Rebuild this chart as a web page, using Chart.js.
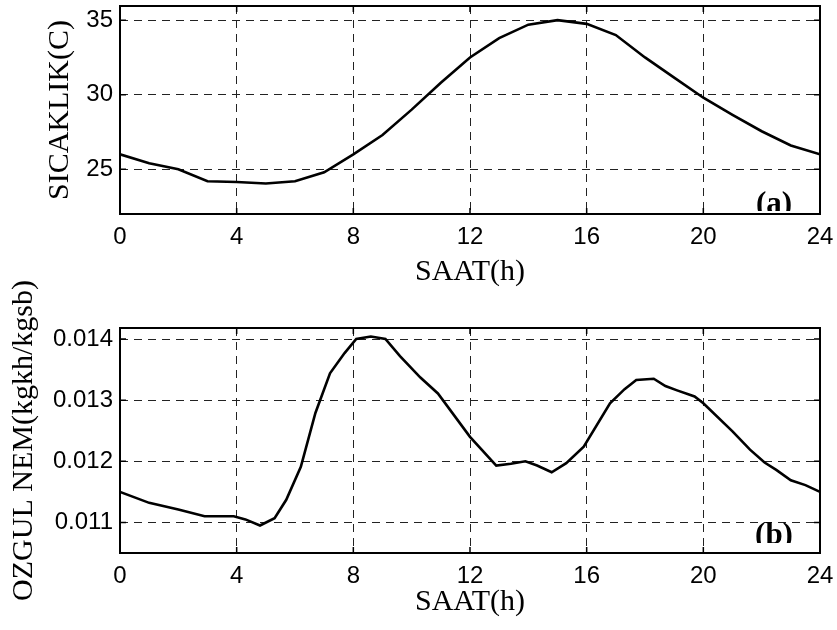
<!DOCTYPE html>
<html>
<head>
<meta charset="utf-8">
<script src="https://cdn.jsdelivr.net/npm/chart.js@4/dist/chart.umd.min.js"></script>
<style>
  body { margin: 0; background: #fff; }
  #wrap { position: relative; width: 837px; height: 630px; }
  canvas { position: absolute; left: 0; }
</style>
</head>
<body>
<div id="wrap">
  <canvas id="tempChart" width="837" height="300" style="top:0"></canvas>
  <canvas id="humChart" width="837" height="390" style="top:240px"></canvas>
</div>
<script>
// ---- data ----
const hourTicks = [0, 4, 8, 12, 16, 20, 24];
const tempTicks = [25, 30, 35];
const humTicks = [0.011, 0.012, 0.013, 0.014];

// (a) temperature, hourly
const hours = [0, 1, 2, 3, 4, 5, 6, 7, 8, 9, 10, 11, 12, 13, 14, 15, 16, 17, 18, 19, 20, 21, 22, 23, 24];
const temperature = [26.0, 25.4, 25.0, 24.2, 24.15, 24.05, 24.2, 24.8, 26.0, 27.3, 29.0, 30.8, 32.5,
  33.8, 34.7, 35.0, 34.75, 34.0, 32.5, 31.15, 29.8, 28.65, 27.55, 26.6, 26.0];

// (b) specific humidity
const humHours = [0, 0.5, 1, 2, 2.9, 3.9, 4.3, 4.8, 5.3, 5.7, 6.2, 6.7, 7.2, 7.7, 8.1, 8.6, 9.1, 9.6,
  10.3, 10.9, 12, 12.9, 13.4, 13.9, 14.3, 14.8, 15.3, 15.9, 16.8, 17.3, 17.7, 18.3, 18.7, 19.1,
  19.7, 20, 21, 21.6, 22.1, 22.5, 23, 23.5, 24];
const humidity = [0.0115, 0.01141, 0.01132, 0.01121, 0.0111, 0.0111, 0.01105, 0.01095, 0.01107,
  0.01137, 0.01191, 0.01279, 0.01344, 0.01377, 0.01400, 0.01404, 0.01400, 0.01372, 0.01337,
  0.01311, 0.01240, 0.01193, 0.01196, 0.01200, 0.01193, 0.01182, 0.01197, 0.01224, 0.01295,
  0.01318, 0.01333, 0.01335, 0.01323, 0.01316, 0.01306, 0.01295, 0.01249, 0.01219, 0.01198,
  0.01186, 0.01169, 0.01161, 0.0115];

// frame, inward ticks and the (a)/(b) panel letter
const framePlugin = {
  id: "frame",
  afterDraw(chart, args, opts) {
    const { ctx, chartArea: a, scales } = chart;
    // panel letter, clipped like in the original
    ctx.save();
    ctx.beginPath();
    ctx.rect(a.left, a.top, a.right - a.left, a.bottom - opts.clipOffset - a.top);
    ctx.clip();
    ctx.font = "bold 31px 'Liberation Serif'";
    ctx.fillStyle = "#000";
    ctx.textAlign = "center";
    ctx.textBaseline = "alphabetic";
    ctx.fillText(opts.label, opts.labelX, a.bottom - opts.baselineOffset);
    ctx.restore();

    ctx.save();
    ctx.strokeStyle = "#000";
    ctx.lineWidth = 1.5;
    ctx.beginPath();
    opts.xTicks.forEach((v) => {
      const x = scales.x.getPixelForValue(v);
      ctx.moveTo(x, a.bottom); ctx.lineTo(x, a.bottom - 6);
      ctx.moveTo(x, a.top); ctx.lineTo(x, a.top + 6);
    });
    opts.yTicks.forEach((v) => {
      const y = scales.y.getPixelForValue(v);
      ctx.moveTo(a.left, y); ctx.lineTo(a.left + 6, y);
      ctx.moveTo(a.right, y); ctx.lineTo(a.right - 6, y);
    });
    ctx.stroke();
    ctx.lineWidth = 2;
    ctx.strokeRect(a.left, a.top, a.right - a.left, a.bottom - a.top);
    ctx.restore();
  },
};

function makeChart(id, cfg) {
  const gridOpts = { color: "#222", lineWidth: 1, drawTicks: false };
  return new Chart(document.getElementById(id), {
    type: "line",
    data: {
      datasets: [{
        data: cfg.xs.map((x, i) => ({ x: x, y: cfg.ys[i] })),
        borderColor: "#000",
        borderWidth: 2.6,
        pointRadius: 0,
        tension: 0,
        fill: false,
      }],
    },
    options: {
      responsive: false,
      animation: false,
      devicePixelRatio: 1,
      layout: { padding: { left: 0, right: 17, top: cfg.top, bottom: 0 } },
      plugins: {
        legend: { display: false },
        tooltip: { enabled: false },
        frame: cfg.frame,
      },
      scales: {
        x: {
          type: "linear",
          min: 0,
          max: 24,
          afterBuildTicks: (s) => { s.ticks = hourTicks.map((v) => ({ value: v })); },
          afterFit: (s) => {
            s.height = cfg.xAxisH;
            s.paddingLeft = 0; s.paddingRight = 0;
          },
          grid: gridOpts,
          border: { display: false, dash: [8, 6] },
          ticks: {
            color: "#000",
            padding: 9,
            maxRotation: 0,
            font: { family: "'Liberation Sans'", size: 24 },
          },
          title: {
            display: true,
            text: "SAAT(h)",
            color: "#000",
            padding: { top: 0, bottom: 10 },
            font: { family: "'Liberation Serif'", size: 30 },
          },
        },
        y: {
          min: cfg.yMin,
          max: cfg.yMax,
          afterBuildTicks: (s) => { s.ticks = cfg.yTicks.map((v) => ({ value: v })); },
          afterFit: (s) => {
            s.width = 120;
            s.paddingTop = 0; s.paddingBottom = 0;
          },
          grid: gridOpts,
          border: { display: false, dash: [8, 6] },
          ticks: {
            color: "#000",
            padding: 7,
            callback: cfg.fmt,
            font: { family: "'Liberation Sans'", size: 24 },
          },
          title: {
            display: true,
            text: cfg.yTitle,
            color: "#000",
            padding: { top: cfg.yTitlePad, bottom: 0 },
            font: { family: "'Liberation Serif'", size: 30 },
          },
        },
      },
    },
    plugins: [framePlugin],
  });
}

makeChart("tempChart", {
  xs: hours, ys: temperature,
  yMin: 22, yMax: 35.95, yTicks: tempTicks,
  fmt: (v) => String(v),
  yTitle: "SICAKLIK(C)", yTitlePad: 42,
  top: 6, xAxisH: 86,
  frame: { label: "(a)", labelX: 774, baselineOffset: 1, clipOffset: 3, xTicks: hourTicks, yTicks: tempTicks },
});

makeChart("humChart", {
  xs: humHours, ys: humidity,
  yMin: 0.0105, yMax: 0.01418, yTicks: humTicks,
  fmt: (v) => v.toFixed(3),
  yTitle: "OZGUL NEM(kgkh/kgsb)", yTitlePad: 6,
  top: 88, xAxisH: 77,
  frame: { label: "(b)", labelX: 774, baselineOffset: 9, clipOffset: 10, xTicks: hourTicks, yTicks: humTicks },
});
</script>
</body>
</html>
